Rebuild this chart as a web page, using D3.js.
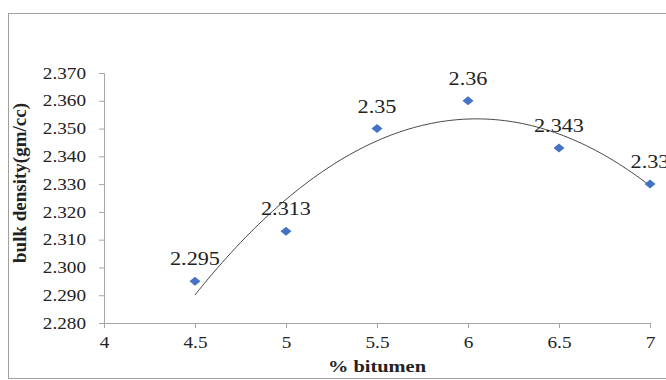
<!DOCTYPE html>
<html>
<head>
<meta charset="utf-8">
<script src="https://cdn.jsdelivr.net/npm/d3@7"></script>
<style>
  body { margin: 0; background: #fff; }
  svg text { fill: #222; }
  .axis path, .axis line { stroke: #a6a6a6; }
</style>
</head>
<body>
<div id="chart"></div>
<script>
// data
let bitumen = [4.5, 5, 5.5, 6, 6.5, 7]
let density = [2.295, 2.313, 2.35, 2.36, 2.343, 2.33]
let densityLabels = ['2.295', '2.313', '2.35', '2.36', '2.343', '2.33']
let xTicks = [4, 4.5, 5, 5.5, 6, 6.5, 7]
let yTicks = [2.28, 2.29, 2.30, 2.31, 2.32, 2.33, 2.34, 2.35, 2.36, 2.37]

let serif = '"Liberation Serif", "Times New Roman", Times, serif'
let stretch = 1.2 // the picture is a bit wider than tall

let margin = { top: 73, right: 16, bottom: 57, left: 104 }
let W = 666, H = 380
let width = W - margin.left - margin.right
let height = H - margin.top - margin.bottom

let root = d3.select('#chart')
    .append('svg')
    .attr('width', W)
    .attr('height', H)
    .attr('font-family', serif)

// outer frame
root.append('rect')
    .attr('x', 8.5).attr('y', 13.5)
    .attr('width', 700).attr('height', 365)
    .attr('fill', 'none')
    .attr('stroke', '#a0a0a0')

let svg = root.append('g')
    .attr('transform', `translate(${margin.left}, ${margin.top})`)

let x = d3.scaleLinear().domain([4, 7]).range([0, width])
let y = d3.scaleLinear().domain([2.28, 2.37]).range([height, 0])

svg.append('g')
    .attr('class', 'axis')
    .call(d3.axisLeft(y).tickValues(yTicks).tickFormat(d3.format('.3f')).tickSize(5).tickPadding(13))

svg.append('g')
    .attr('class', 'axis')
    .attr('transform', `translate(0, ${height})`)
    .call(d3.axisBottom(x).tickValues(xTicks).tickFormat(d => d).tickSize(5).tickPadding(9))

svg.selectAll('.axis .tick text')
    .attr('font-family', serif)
    .attr('font-size', 16)
    .attr('fill', '#222')
    .classed('wide', true)

// polynomial (order 2) trendline, least squares on the points
function quadFit(xs, ys) {
    let n = xs.length
    let s = [0, 0, 0, 0, 0], t = [0, 0, 0]
    for (let i = 0; i < n; i++) {
        for (let k = 0; k < 5; k++) s[k] += Math.pow(xs[i], k)
        for (let k = 0; k < 3; k++) t[k] += ys[i] * Math.pow(xs[i], k)
    }
    let A = [[s[0], s[1], s[2], t[0]], [s[1], s[2], s[3], t[1]], [s[2], s[3], s[4], t[2]]]
    for (let c = 0; c < 3; c++) {
        for (let r = c + 1; r < 3; r++) {
            let f = A[r][c] / A[c][c]
            for (let k = c; k < 4; k++) A[r][k] -= f * A[c][k]
        }
    }
    let coef = [0, 0, 0]
    for (let r = 2; r >= 0; r--) {
        let v = A[r][3]
        for (let k = r + 1; k < 3; k++) v -= A[r][k] * coef[k]
        coef[r] = v / A[r][r]
    }
    return v => coef[0] + coef[1] * v + coef[2] * v * v
}

let fit = quadFit(bitumen, density)
let xMin = d3.min(bitumen), xMax = d3.max(bitumen)
let trend = d3.range(0, 101).map(i => {
    let v = xMin + (xMax - xMin) * i / 100
    return [v, fit(v)]
})

svg.append('path')
    .datum(trend)
    .attr('fill', 'none')
    .attr('stroke', '#333')
    .attr('stroke-width', 0.9)
    .attr('d', d3.line().x(d => x(d[0])).y(d => y(d[1])))

let points = bitumen.map((b, i) => ({ b: b, d: density[i], label: densityLabels[i] }))

svg.selectAll('.pt')
    .data(points)
    .join('path')
    .attr('class', 'pt')
    .attr('d', 'M0,-4.5L5.5,0L0,4.5L-5.5,0Z')
    .attr('transform', d => `translate(${x(d.b)}, ${y(d.d)})`)
    .attr('fill', '#4472C4')

svg.selectAll('.point-label')
    .data(points)
    .join('text')
    .attr('class', 'point-label wide')
    .attr('x', d => x(d.b))
    .attr('y', d => y(d.d) - 16)
    .attr('text-anchor', 'middle')
    .attr('font-size', 18.5)
    .text(d => d.label)

// axis titles
svg.append('text')
    .attr('class', 'title wide')
    .attr('x', width / 2)
    .attr('y', height + 49)
    .attr('text-anchor', 'middle')
    .attr('font-size', 17)
    .attr('font-weight', 'bold')
    .text('% bitumen')

svg.append('text')
    .attr('class', 'title')
    .attr('transform', `translate(${-78}, ${110}) rotate(-90)`)
    .attr('text-anchor', 'middle')
    .attr('font-size', 19)
    .attr('font-weight', 'bold')
    .text('bulk density(gm/cc)')

// widen the glyphs like the picture
root.selectAll('text.wide').each(function() {
    let len = this.getComputedTextLength()
    d3.select(this)
        .attr('textLength', len * stretch)
        .attr('lengthAdjust', 'spacingAndGlyphs')
})
</script>
</body>
</html>
